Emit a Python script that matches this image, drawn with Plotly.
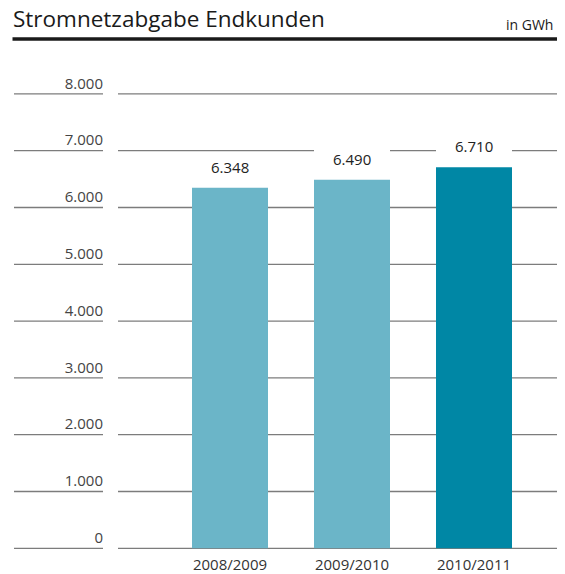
import plotly.graph_objects as go

# ---- data ----
CATEGORIES = ["2008/2009", "2009/2010", "2010/2011"]
VALUES = [6348, 6490, 6710]
VALUE_LABELS = ["6.348", "6.490", "6.710"]
BAR_COLORS = ["#6bb5c8", "#6bb5c8", "#0087a5"]
Y_TICKS = [0, 1000, 2000, 3000, 4000, 5000, 6000, 7000, 8000]
Y_TICK_LABELS = ["0", "1.000", "2.000", "3.000", "4.000", "5.000", "6.000", "7.000", "8.000"]
TITLE = "Stromnetzabgabe Endkunden"
UNIT = "in GWh"

# ---- layout helpers (page pixel -> paper); body margin removed below ----
PAGE_W, PAGE_H = 565, 574
OFF = 0
W, H = PAGE_W - OFF, PAGE_H - OFF
FONT = "Open Sans"


def fx(p):
    return (p - OFF) / W


def fy(p):
    return (H - (p - OFF)) / H


BAR_W = 0.623
LABEL_BOX = 600  # height of white backdrop behind value labels (data units)

fig = go.Figure()

# white backdrop behind the value labels (interrupts gridlines)
fig.add_trace(go.Bar(
    x=CATEGORIES, y=[LABEL_BOX] * len(CATEGORIES), base=VALUES,
    marker=dict(color="white", line=dict(width=0)), width=BAR_W,
    hoverinfo="skip", showlegend=False,
))
fig.add_trace(go.Bar(
    x=CATEGORIES, y=VALUES,
    marker=dict(color=BAR_COLORS, line=dict(width=0)), width=BAR_W,
    showlegend=False,
))

shapes = []
for t in Y_TICKS:
    for x0, x1 in [(14, 103), (118, 557)]:
        shapes.append(dict(type="line", xref="paper", yref="y",
                           x0=fx(x0), x1=fx(x1), y0=t, y1=t,
                           line=dict(color="#7c7c7c", width=1.3), layer="below"))
# title rule
shapes.append(dict(type="line", xref="paper", yref="paper",
                   x0=fx(12.5), x1=fx(557), y0=fy(39), y1=fy(39),
                   line=dict(color="#1a1a1a", width=3.5), layer="above"))

annotations = []
for c, v, lab in zip(CATEGORIES, VALUES, VALUE_LABELS):
    annotations.append(dict(x=c, y=v, xref="x", yref="y", text=lab,
                            showarrow=False, yanchor="bottom", yshift=9,
                            font=dict(family=FONT, size=15, color="#222222")))
annotations.append(dict(x=fx(11), y=fy(36.5), xref="paper", yref="paper",
                        text=TITLE, showarrow=False, xanchor="left", yanchor="bottom",
                        font=dict(family=FONT, size=22.5, color="#1a1a1a")))
annotations.append(dict(x=fx(555), y=fy(36), xref="paper", yref="paper",
                        text=UNIT, showarrow=False, xanchor="right", yanchor="bottom",
                        font=dict(family=FONT, size=14, color="#1a1a1a")))

PX_PER_UNIT = (548.3 - 150.7) / 7000.0
Y0_PX = 548.3
y_lo = -(PAGE_H - Y0_PX) / PX_PER_UNIT
y_hi = (Y0_PX - OFF) / PX_PER_UNIT
X_STEP = 122.0
X0_PX = 230.0
x_lo = (OFF - X0_PX) / X_STEP
x_hi = (PAGE_W - X0_PX) / X_STEP

fig.update_layout(
    width=W, height=H,
    margin=dict(l=0, r=0, t=0, b=0),
    paper_bgcolor="white", plot_bgcolor="white",
    barmode="overlay",
    showlegend=False,
    shapes=shapes,
    annotations=annotations,
    xaxis=dict(range=[x_lo, x_hi], anchor="free", position=fy(548.3),
               showgrid=False, zeroline=False, showline=False,
               ticks="outside", ticklen=3, tickcolor="rgba(0,0,0,0)",
               tickfont=dict(family=FONT, size=15, color="#333333"),
               automargin=False, fixedrange=True),
    yaxis=dict(range=[y_lo, y_hi], anchor="free", position=fx(103), side="left",
               tickvals=Y_TICKS, ticktext=Y_TICK_LABELS,
               ticklabelposition="outside top",
               showgrid=False, zeroline=False, showline=False, ticks="",
               tickfont=dict(family=FONT, size=15, color="#444444"),
               automargin=False, fixedrange=True),
)

fig.write_html("out.html", config={"displayModeBar": False},
               post_script="document.body.style.margin='0';")
